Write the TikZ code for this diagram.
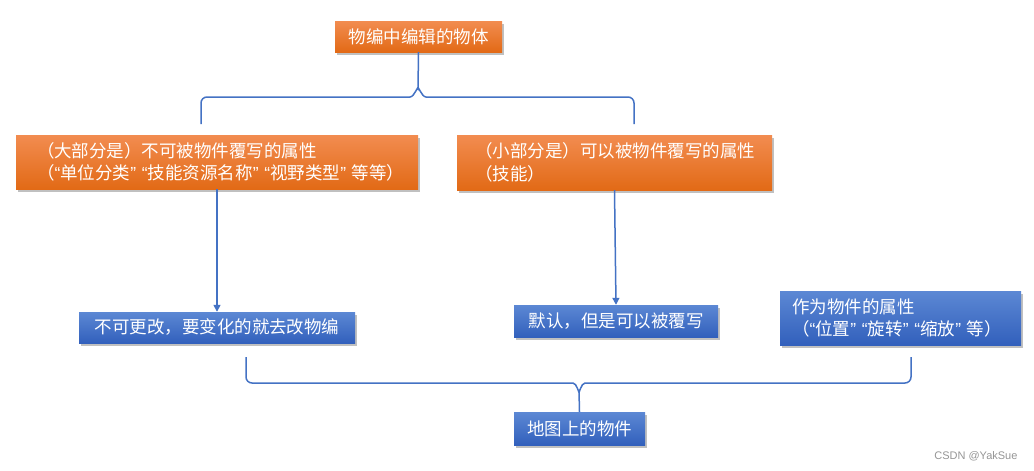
\documentclass[tikz,border=0pt]{standalone}
\usepackage{fontspec}
\setmainfont{Liberation Sans}
\newfontfamily\cjk{Noto Sans CJK SC}
\newfontfamily\latn{Liberation Sans}
\newcommand\oqt{{\latn “}}
\newcommand\cqt{{\latn ”}}
\usetikzlibrary{shadows,arrows.meta}
\definecolor{orT}{RGB}{242,140,80}
\definecolor{orB}{RGB}{226,106,22}
\definecolor{blT}{RGB}{92,136,212}
\definecolor{blB}{RGB}{50,96,188}
\definecolor{conn}{RGB}{68,114,196}
\definecolor{wm}{RGB}{150,150,150}
\tikzset{
  boxbase/.style={inner sep=0pt, text=white, font=\cjk\fontsize{17.5}{22.5}\selectfont,
    drop shadow={shadow xshift=2pt, shadow yshift=-3pt, opacity=0.35, fill=black!70}},
  orbox/.style={boxbase, top color=orT, bottom color=orB},
  blbox/.style={boxbase, top color=blT, bottom color=blB},
  link/.style={draw=conn, line width=1.5pt},
  arr/.style={link, -{Triangle[width=7pt,length=7pt]}}
}
\begin{document}
\begin{tikzpicture}[x=1pt,y=-1pt]
\useasboundingbox[fill=white] (0,0) rectangle (1034,471);
\node[orbox, minimum width=167pt, minimum height=31pt] (top) at (418.5,36.5) {物编中编辑的物体};
\node[orbox, minimum width=402pt, minimum height=54pt, text width=360pt, align=left] (L) at (217,162)
  {\mbox{（大部分是）不可被物件覆写的属性}\\\mbox{（\oqt 单位分类\cqt{} \oqt 技能资源名称\cqt{} \oqt 视野类型\cqt{} 等等）}};
\node[orbox, minimum width=315pt, minimum height=55pt, text width=279pt, align=left] (R) at (614.5,162.5)
  {\mbox{（小部分是）可以被物件覆写的属性}\\（技能）};
\node[blbox, minimum width=276pt, minimum height=31pt] (B1) at (217,327.5) {不可更改，要变化的就去改物编};
\node[blbox, minimum width=204pt, minimum height=32pt] (B2) at (616,321) {默认，但是可以被覆写};
\node[blbox, minimum width=241pt, minimum height=54pt, text width=217pt, align=left] (B3) at (900.5,318)
  {作为物件的属性\\\mbox{（\oqt 位置\cqt{} \oqt 旋转\cqt{} \oqt 缩放\cqt{} 等）}};
\node[blbox, minimum width=131pt, minimum height=33pt] (bot) at (579.5,428.5) {地图上的物件};
% top brace
\coordinate (tl) at (201,124);
\coordinate (tr) at (634,124);
\draw[link] (top.south) -- (418,89) to[out=90,in=0] (410,97) -- (207,97) to[out=180,in=90] (201,103) -- (tl);
\draw[link] (418,89) to[out=90,in=180] (426,97) -- (628,97) to[out=0,in=90] (634,103) -- (tr);
% arrows
\draw[arr] (L.south) -- (B1.north);
\draw[arr] (R.south) -- (B2.north);
% bottom brace
\coordinate (bl) at (246,357);
\coordinate (br) at (911,357);
\draw[link] (bl) -- (246,377) to[out=-90,in=180] (252,383) -- (573,383) to[out=0,in=-90] (579,391) -- (bot.north);
\draw[link] (br) -- (911,377) to[out=-90,in=0] (905,383) -- (585,383) to[out=180,in=-90] (579,391);
\node[text=wm, font=\fontsize{11}{13}\selectfont, anchor=east] (wmk) at (1021,456) {CSDN @YakSue};
\end{tikzpicture}
\end{document}
